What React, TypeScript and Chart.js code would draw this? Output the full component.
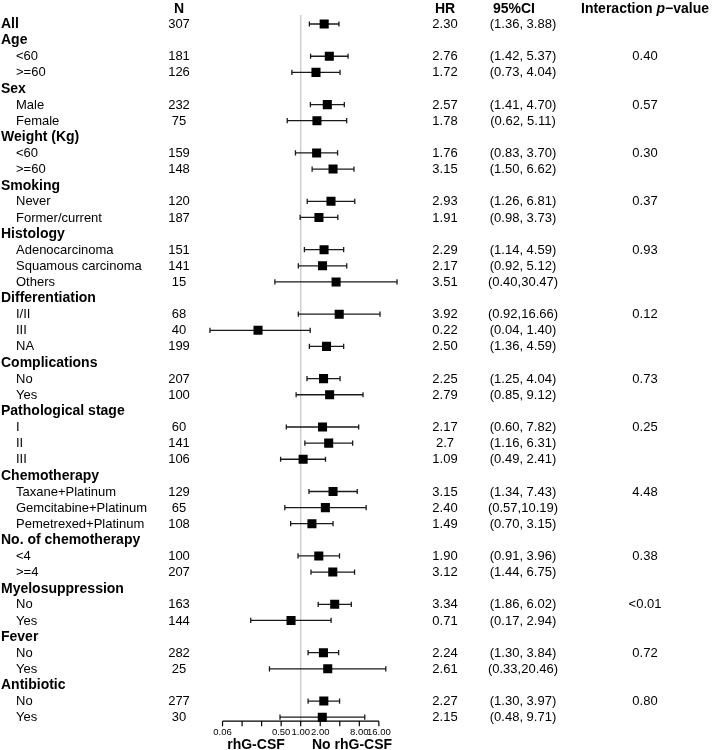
import React, { useEffect, useRef } from "react";
import { Chart, registerables } from "chart.js";

Chart.register(...registerables);

// ---------- DATA ----------
const rowLabels = [
  "All", "Age", "<60", ">=60", "Sex", "Male", "Female", "Weight (Kg)", "<60", ">=60",
  "Smoking", "Never", "Former/current", "Histology", "Adenocarcinoma", "Squamous carcinoma", "Others",
  "Differentiation", "I/II", "III", "NA", "Complications", "No", "Yes",
  "Pathological stage", "I", "II", "III", "Chemotherapy", "Taxane+Platinum", "Gemcitabine+Platinum",
  "Pemetrexed+Platinum", "No. of chemotherapy", "<4", ">=4", "Myelosuppression", "No", "Yes",
  "Fever", "No", "Yes", "Antibiotic", "No", "Yes",
];
const rowIsGroup = [
  true, true, false, false, true, false, false, true, false, false,
  true, false, false, true, false, false, false,
  true, false, false, false, true, false, false,
  true, false, false, false, true, false, false,
  false, true, false, false, true, false, false,
  true, false, false, true, false, false,
];
const nValues = [
  307, null, 181, 126, null, 232, 75, null, 159, 148,
  null, 120, 187, null, 151, 141, 15,
  null, 68, 40, 199, null, 207, 100,
  null, 60, 141, 106, null, 129, 65,
  108, null, 100, 207, null, 163, 144,
  null, 282, 25, null, 277, 30,
];
const hrLabels = [
  "2.30", "", "2.76", "1.72", "", "2.57", "1.78", "", "1.76", "3.15",
  "", "2.93", "1.91", "", "2.29", "2.17", "3.51",
  "", "3.92", "0.22", "2.50", "", "2.25", "2.79",
  "", "2.17", "2.7", "1.09", "", "3.15", "2.40",
  "1.49", "", "1.90", "3.12", "", "3.34", "0.71",
  "", "2.24", "2.61", "", "2.27", "2.15",
];
const ciLow = [
  1.36, null, 1.42, 0.73, null, 1.41, 0.62, null, 0.83, 1.50,
  null, 1.26, 0.98, null, 1.14, 0.92, 0.40,
  null, 0.92, 0.04, 1.36, null, 1.25, 0.85,
  null, 0.60, 1.16, 0.49, null, 1.34, 0.57,
  0.70, null, 0.91, 1.44, null, 1.86, 0.17,
  null, 1.30, 0.33, null, 1.30, 0.48,
];
const ciHigh = [
  3.88, null, 5.37, 4.04, null, 4.70, 5.11, null, 3.70, 6.62,
  null, 6.81, 3.73, null, 4.59, 5.12, 30.47,
  null, 16.66, 1.40, 4.59, null, 4.04, 9.12,
  null, 7.82, 6.31, 2.41, null, 7.43, 10.19,
  3.15, null, 3.96, 6.75, null, 6.02, 2.94,
  null, 3.84, 20.46, null, 3.97, 9.71,
];
const pValues = [
  "", "", "0.40", "", "", "0.57", "", "", "0.30", "",
  "", "0.37", "", "", "0.93", "", "",
  "", "0.12", "", "", "", "0.73", "",
  "", "0.25", "", "", "", "4.48", "",
  "", "", "0.38", "", "", "<0.01", "",
  "", "0.72", "", "", "0.80", "",
];
const axisTicks = [0.0625, 0.125, 0.25, 0.5, 1, 2, 4, 8, 16];
const axisTickLabels = ["0.06", "", "", "0.50", "1.00", "2.00", "", "8.00", "16.00"];
const headerN = "N";
const headerHR = "HR";
const headerCI = "95%CI";
const leftSideLabel = "rhG-CSF";
const rightSideLabel = "No rhG-CSF";

// ---------- LAYOUT CONSTANTS ----------
const W = 712;
const H = 750;
const X_ONE = 300.7;
const PX_PER_DOUBLING = 19.54;
const X_MIN_EXP = -5;
const X_MAX_EXP = 6;
const ROW_H = 16.12;
const FIRST_ROW_Y = 24;
const Y_MAX = 45;
const FONT = '"Liberation Sans", Arial, Helvetica, sans-serif';

const fmtCI = (lo: number, hi: number) =>
  `(${lo.toFixed(2)},${hi >= 10 ? "" : " "}${hi.toFixed(2)})`;

export default function App() {
  const ref = useRef<HTMLCanvasElement | null>(null);

  useEffect(() => {
    if (!ref.current) return;

    const points: any[] = [];
    const whiskers: any[] = [];
    rowLabels.forEach((_, i) => {
      const lo = ciLow[i];
      const hi = ciHigh[i];
      if (lo != null && hi != null && hrLabels[i] !== "") {
        points.push({ x: parseFloat(hrLabels[i]), y: i });
        whiskers.push({ x: lo, y: i }, { x: hi, y: i }, { x: hi, y: null });
      }
    });

    const textPlugin = {
      id: "forestText",
      beforeDatasetsDraw(chart: any) {
        const { ctx, scales } = chart;
        const x1 = scales.x.getPixelForValue(1);
        const yTop = scales.y.getPixelForValue(-0.56);
        const yAxis = scales.y.getPixelForValue(rowLabels.length - 1) + 4;
        ctx.save();
        ctx.strokeStyle = "#cfcfcf";
        ctx.lineWidth = 1.5;
        ctx.beginPath();
        ctx.moveTo(x1, yTop);
        ctx.lineTo(x1, yAxis);
        ctx.stroke();
        ctx.restore();
      },
      afterDraw(chart: any) {
        const { ctx, scales } = chart;
        const ys = scales.y;
        const xs = scales.x;
        ctx.save();
        ctx.fillStyle = "#000";
        ctx.textBaseline = "middle";

        // headers
        const hy = ys.getPixelForValue(-1) + 1.5;
        const bold = `bold 14px ${FONT}`;
        ctx.font = bold;
        ctx.textAlign = "center";
        ctx.fillText(headerN, 179, hy);
        ctx.fillText(headerHR, 445, hy);
        ctx.fillText(headerCI, 514, hy);
        // Interaction p-value
        const partA = "Interaction ";
        const partB = "p";
        const partC = "\u2212value";
        ctx.font = bold;
        const wA = ctx.measureText(partA).width;
        const wC = ctx.measureText(partC).width;
        ctx.font = `italic bold 14px ${FONT}`;
        const wB = ctx.measureText(partB).width;
        let px = 645 - (wA + wB + wC) / 2;
        ctx.textAlign = "left";
        ctx.font = bold;
        ctx.fillText(partA, px, hy);
        px += wA;
        ctx.font = `italic bold 14px ${FONT}`;
        ctx.fillText(partB, px, hy);
        px += wB;
        ctx.font = bold;
        ctx.fillText(partC, px, hy);

        // rows
        rowLabels.forEach((lab, i) => {
          const y = ys.getPixelForValue(i) + 0.5;
          ctx.textAlign = "left";
          if (rowIsGroup[i]) {
            ctx.font = bold;
            ctx.fillText(lab, 1, y);
          } else {
            ctx.font = `13px ${FONT}`;
            ctx.fillText(lab, 16, y);
          }
          ctx.font = `13px ${FONT}`;
          ctx.textAlign = "center";
          if (nValues[i] != null) ctx.fillText(String(nValues[i]), 179, y);
          if (hrLabels[i]) ctx.fillText(hrLabels[i], 445, y);
          const lo = ciLow[i];
          const hi = ciHigh[i];
          if (lo != null && hi != null) ctx.fillText(fmtCI(lo, hi), 523, y);
          if (pValues[i]) ctx.fillText(pValues[i], 645, y);
        });

        // x axis
        const yAxis = ys.getPixelForValue(rowLabels.length - 1) + 4;
        const xa = xs.getPixelForValue(axisTicks[0]);
        const xb = xs.getPixelForValue(axisTicks[axisTicks.length - 1]);
        ctx.strokeStyle = "#000";
        ctx.lineWidth = 1.2;
        ctx.beginPath();
        ctx.moveTo(xa, yAxis);
        ctx.lineTo(xb, yAxis);
        axisTicks.forEach((t) => {
          const tx = xs.getPixelForValue(t);
          ctx.moveTo(tx, yAxis);
          ctx.lineTo(tx, yAxis + 5);
        });
        ctx.stroke();
        ctx.font = `9.5px ${FONT}`;
        ctx.textAlign = "center";
        axisTicks.forEach((t, k) => {
          if (axisTickLabels[k]) ctx.fillText(axisTickLabels[k], xs.getPixelForValue(t), yAxis + 11.5);
        });
        ctx.font = bold;
        ctx.fillText(leftSideLabel, 256, yAxis + 24);
        ctx.fillText(rightSideLabel, 352, yAxis + 24);
        ctx.restore();
      },
    };

    const xLeft = X_ONE + X_MIN_EXP * PX_PER_DOUBLING;
    const xRight = X_ONE + X_MAX_EXP * PX_PER_DOUBLING;
    const yTopPx = FIRST_ROW_Y - ROW_H;
    const yBottomPx = FIRST_ROW_Y + Y_MAX * ROW_H;

    const chart = new Chart(ref.current, {
      type: "scatter",
      data: {
        datasets: [
          {
            type: "scatter",
            data: points,
            pointStyle: "rect",
            pointRadius: 6.4,
            pointHoverRadius: 6.4,
            backgroundColor: "#000",
            borderWidth: 0,
            order: 0,
          } as any,
          {
            type: "line",
            data: whiskers,
            showLine: true,
            spanGaps: false,
            borderColor: "#1a1a1a",
            borderWidth: 1.3,
            pointStyle: "line",
            rotation: 90,
            pointRadius: 2.6,
            pointHoverRadius: 2.6,
            pointBorderColor: "#1a1a1a",
            pointBorderWidth: 1.3,
            fill: false,
            order: 1,
          } as any,
        ],
      },
      options: {
        animation: false,
        responsive: false,
        events: [],
        layout: {
          autoPadding: false,
          padding: {
            left: xLeft,
            right: W - xRight,
            top: yTopPx,
            bottom: H - yBottomPx,
          },
        },
        scales: {
          x: {
            type: "logarithmic",
            min: Math.pow(2, X_MIN_EXP),
            max: Math.pow(2, X_MAX_EXP),
            bounds: "data",
            display: false,
          },
          y: {
            type: "linear",
            min: -1,
            max: Y_MAX,
            reverse: true,
            bounds: "data",
            display: false,
          },
        },
        plugins: {
          legend: { display: false },
          tooltip: { enabled: false },
        },
      },
      plugins: [textPlugin],
    } as any);

    return () => chart.destroy();
  }, []);

  return (
    <div style={{ position: "absolute", left: 0, top: 0, width: W, height: H, background: "#fff" }}>
      <canvas ref={ref} width={W} height={H} style={{ display: "block", width: W, height: H }} />
    </div>
  );
}
